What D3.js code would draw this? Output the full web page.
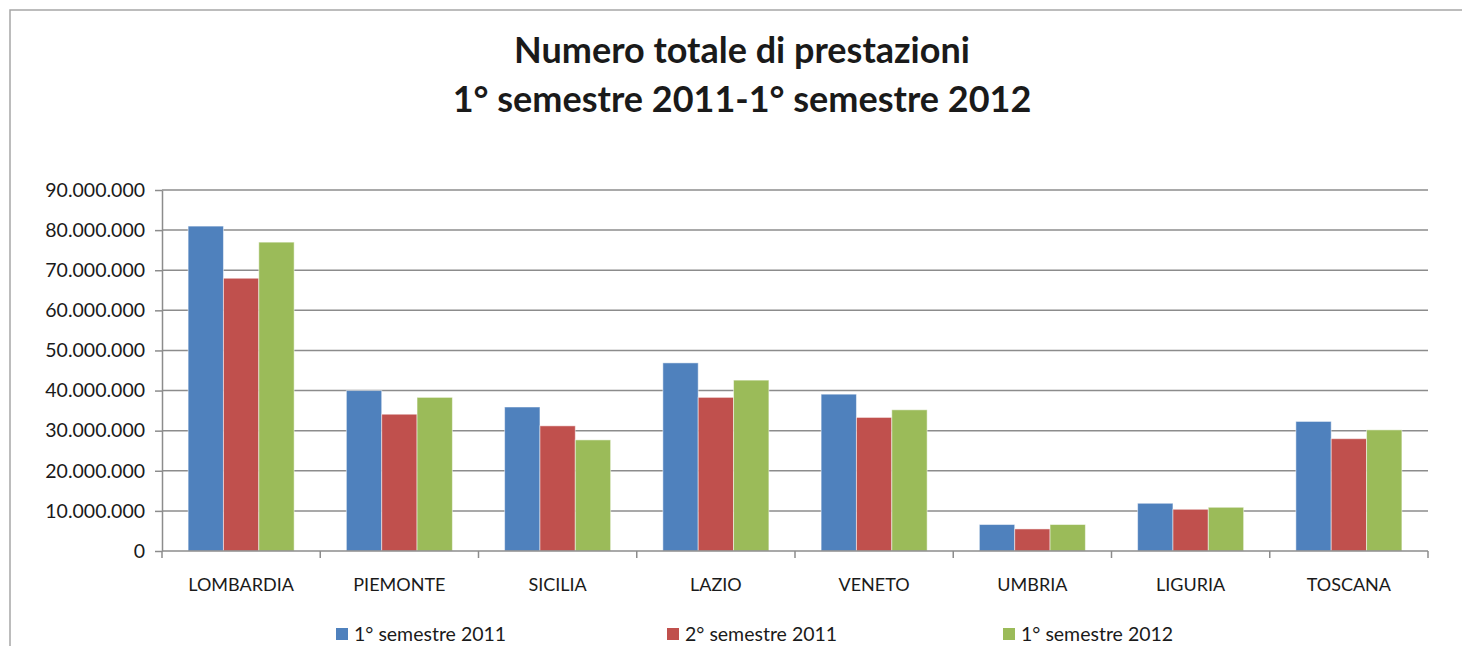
<!DOCTYPE html>
<meta charset="utf-8">
<style>
    body { margin: 0; background: #fff; }
    text { font-family: Lato, "Open Sans", sans-serif; fill: #1a1a1a; }
    .grid line { stroke: #8c8c8c; stroke-width: 1.5px; }
    .axis path, .axis line { stroke: #8c8c8c; stroke-width: 1.5px; }
</style>
<svg width="1462" height="646"></svg>
<script src="https://d3js.org/d3.v7.min.js"></script>
<script>

    // data
    var regions = ["LOMBARDIA", "PIEMONTE", "SICILIA", "LAZIO", "VENETO", "UMBRIA", "LIGURIA", "TOSCANA"];
    var series = ["1° semestre 2011", "2° semestre 2011", "1° semestre 2012"];
    var sem1_2011 = [81000000, 40000000, 35900000, 46900000, 39100000, 6600000, 11900000, 32300000];
    var sem2_2011 = [68000000, 34100000, 31200000, 38300000, 33300000, 5500000, 10400000, 28000000];
    var sem1_2012 = [77000000, 38300000, 27700000, 42600000, 35200000, 6600000, 10900000, 30200000];
    var yTicks = [0, 10000000, 20000000, 30000000, 40000000, 50000000, 60000000, 70000000, 80000000, 90000000];
    var colors = ["#4f81bd", "#c0504d", "#9bbb59"];

    var svg = d3.select("svg"),
        margin = {top: 190, right: 34, bottom: 95, left: 162},
        width = +svg.attr("width") - margin.left - margin.right,
        height = +svg.attr("height") - margin.top - margin.bottom;

    // outer frame (only top and left edges show in the picture)
    svg.append("rect")
        .attr("x", 10).attr("y", 10)
        .attr("width", 1500).attr("height", 700)
        .attr("fill", "none")
        .attr("stroke", "#a6a6a6")
        .attr("stroke-width", 1.5);

    // title
    var title = svg.append("text")
        .attr("text-anchor", "middle")
        .attr("font-size", "36px")
        .attr("font-weight", "bold");
    title.append("tspan").attr("x", 742).attr("y", 63).text("Numero totale di prestazioni");
    title.append("tspan").attr("x", 742).attr("y", 112).text("1° semestre 2011-1° semestre 2012");

    var g = svg.append("g").attr("transform", "translate(" + margin.left + "," + margin.top + ")");

    var x0 = d3.scaleBand().domain(regions).range([0, width]).paddingInner(0).paddingOuter(0);
    // group width ~ 3 bars, gap ~ 1.5 bars
    var x1 = d3.scaleBand().domain(series)
        .range([x0.bandwidth() * 0.165, x0.bandwidth() * 0.835]).paddingInner(0).paddingOuter(0);
    var y = d3.scaleLinear().domain([0, 90000000]).range([height, 0]);

    var fmt = function(d) { return d3.format(",")(d).replace(/,/g, "."); };

    // horizontal gridlines
    g.append("g")
        .attr("class", "grid")
        .selectAll("line")
        .data(yTicks.slice(1))
        .enter().append("line")
        .attr("x1", 0).attr("x2", width)
        .attr("y1", function(d) { return y(d); })
        .attr("y2", function(d) { return y(d); });

    var table = regions.map(function(r, i) {
        return {region: r, values: [sem1_2011[i], sem2_2011[i], sem1_2012[i]]};
    });

    g.selectAll(".group")
        .data(table)
        .enter().append("g")
        .attr("class", "group")
        .attr("transform", function(d) { return "translate(" + x0(d.region) + ",0)"; })
        .selectAll("rect")
        .data(function(d) { return d.values.map(function(v, i) { return {s: series[i], v: v, i: i}; }); })
        .enter().append("rect")
        .attr("x", function(d) { return x1(d.s); })
        .attr("width", x1.bandwidth())
        .attr("y", function(d) { return y(d.v); })
        .attr("height", function(d) { return height - y(d.v); })
        .attr("fill", function(d) { return colors[d.i]; })
        .attr("stroke", "rgba(255,255,255,0.5)")
        .attr("stroke-width", 1);

    // y axis
    var yAxis = g.append("g")
        .attr("class", "axis")
        .call(d3.axisLeft(y).tickValues(yTicks).tickFormat(fmt).tickSize(7).tickSizeOuter(0).tickPadding(10));
    yAxis.selectAll("text").attr("font-size", "19.5px").attr("fill", "#1a1a1a").attr("font-family", "Lato, sans-serif");

    // x axis with ticks between categories
    var xAxis = g.append("g")
        .attr("class", "axis")
        .attr("transform", "translate(0," + height + ")");
    xAxis.append("line").attr("x1", 0).attr("x2", width).attr("y1", 0).attr("y2", 0);
    xAxis.selectAll(".sep")
        .data(regions.concat(["end"]))
        .enter().append("line")
        .attr("class", "sep")
        .attr("x1", function(d, i) { return i * x0.step(); })
        .attr("x2", function(d, i) { return i * x0.step(); })
        .attr("y1", 0).attr("y2", 7);
    xAxis.selectAll(".lbl")
        .data(regions)
        .enter().append("text")
        .attr("class", "lbl")
        .attr("x", function(d) { return x0(d) + x0.bandwidth() / 2; })
        .attr("y", 40)
        .attr("text-anchor", "middle")
        .attr("font-size", "18px")
        .text(function(d) { return d; });

    // legend
    var legendX = [336, 667, 1003];
    var legend = svg.selectAll(".legend")
        .data(series)
        .enter().append("g")
        .attr("class", "legend")
        .attr("transform", function(d, i) { return "translate(" + legendX[i] + ",628)"; });
    legend.append("rect")
        .attr("width", 12).attr("height", 12)
        .attr("fill", function(d, i) { return colors[i]; });
    legend.append("text")
        .attr("x", 18).attr("y", 13)
        .attr("font-size", "19.5px")
        .text(function(d) { return d; });

</script>
